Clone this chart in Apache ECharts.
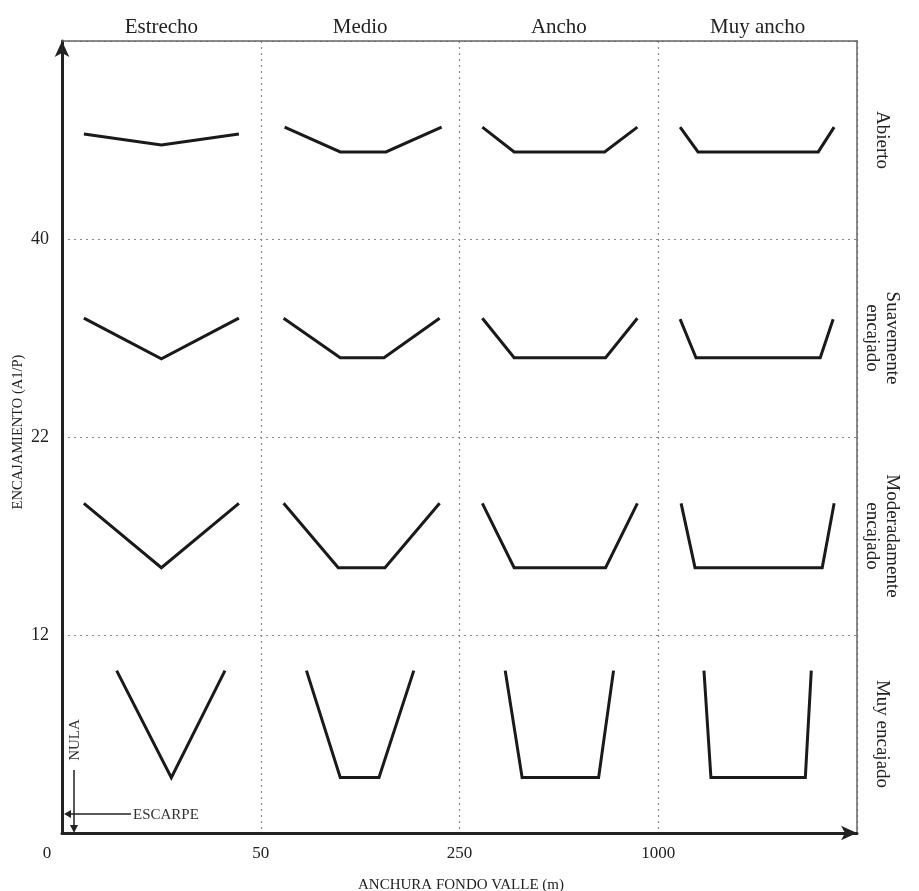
<!DOCTYPE html>
<html><head><meta charset="utf-8">
<script src="https://cdn.jsdelivr.net/npm/echarts@6/dist/echarts.min.js"></script>
<style>html,body{margin:0;padding:0;background:#fff}#c{width:919px;height:891px}</style>
</head><body><div id="c"></div>
<script>
// Column (valley floor width) and row (entrenchment) categories
const columns = ['Estrecho', 'Medio', 'Ancho', 'Muy ancho'];
const rows = ['Abierto', 'Suavemente\nencajado', 'Moderadamente\nencajado', 'Muy encajado'];
const xTickLabels = ['0', '50', '250', '1000', ''];
const yTickLabels = ['', '12', '22', '40', ''];

// Profile shapes within each cell, as [fraction across, fraction up] points
const rowAbierto = [
  [[0.11, 0.53], [0.50, 0.475], [0.89, 0.53]],
  [[0.12, 0.565], [0.40, 0.44], [0.63, 0.44], [0.91, 0.565]],
  [[0.115, 0.565], [0.275, 0.44], [0.73, 0.44], [0.895, 0.565]],
  [[0.11, 0.565], [0.20, 0.44], [0.805, 0.44], [0.885, 0.565]]
];
const rowSuave = [
  [[0.11, 0.60], [0.50, 0.395], [0.89, 0.60]],
  [[0.115, 0.60], [0.40, 0.40], [0.62, 0.40], [0.90, 0.60]],
  [[0.115, 0.60], [0.275, 0.40], [0.735, 0.40], [0.895, 0.60]],
  [[0.11, 0.595], [0.19, 0.40], [0.815, 0.40], [0.88, 0.595]]
];
const rowModerado = [
  [[0.11, 0.665], [0.50, 0.34], [0.89, 0.665]],
  [[0.115, 0.665], [0.39, 0.34], [0.625, 0.34], [0.90, 0.665]],
  [[0.115, 0.665], [0.275, 0.34], [0.735, 0.34], [0.895, 0.665]],
  [[0.115, 0.665], [0.185, 0.34], [0.825, 0.34], [0.885, 0.665]]
];
const rowMuy = [
  [[0.275, 0.82], [0.55, 0.28], [0.82, 0.82]],
  [[0.23, 0.82], [0.40, 0.28], [0.595, 0.28], [0.77, 0.82]],
  [[0.23, 0.82], [0.315, 0.28], [0.70, 0.28], [0.775, 0.82]],
  [[0.23, 0.82], [0.265, 0.28], [0.74, 0.28], [0.77, 0.82]]
];
// rows listed bottom (index 0) to top (index 3)
const profileRows = [rowMuy, rowModerado, rowSuave, rowAbierto];

const serif = 'Liberation Serif';
const series = [];
profileRows.forEach((rowProfiles, r) => {
  rowProfiles.forEach((pts, c) => {
    series.push({
      type: 'line', xAxisIndex: 0, yAxisIndex: 0,
      data: pts.map(p => [c + p[0], r + p[1]]),
      symbol: 'none', silent: true,
      lineStyle: { color: '#1a1a1a', width: 3, join: 'miter' }
    });
  });
});

const chart = echarts.init(document.getElementById('c'), null, { renderer: 'canvas' });
const gridL = 62, gridT = 41, gridW = 795, gridH = 792;

const graphics = [];
columns.forEach((name, i) => {
  graphics.push({ type: 'text', x: gridL + gridW * (i + 0.5) / 4, y: 27,
    style: { text: name, font: '21px "' + serif + '"', fill: '#222', textAlign: 'center', textVerticalAlign: 'middle' } });
});
rows.forEach((name, i) => {
  graphics.push({ type: 'text', x: 882, y: gridT + gridH * (i + 0.5) / 4, rotation: -Math.PI / 2,
    style: { text: name, font: '19px "' + serif + '"', fill: '#222', textAlign: 'center', textVerticalAlign: 'middle', lineHeight: 20 } });
});
graphics.push(
  { type: 'text', x: 461, y: 885, style: { text: 'ANCHURA FONDO VALLE (m)', font: '15px "' + serif + '"', fill: '#222', textAlign: 'center', textVerticalAlign: 'middle' } },
  { type: 'text', x: 18, y: 432, rotation: Math.PI / 2, style: { text: 'ENCAJAMIENTO (A1/P)', font: '14.5px "' + serif + '"', fill: '#222', textAlign: 'center', textVerticalAlign: 'middle' } },
  { type: 'text', x: 75, y: 740, rotation: Math.PI / 2, style: { text: 'NULA', font: '15px "' + serif + '"', fill: '#333', textAlign: 'center', textVerticalAlign: 'middle' } },
  { type: 'line', shape: { x1: 74, y1: 770, x2: 74, y2: 826 }, style: { stroke: '#222', lineWidth: 1.5 } },
  { type: 'polygon', shape: { points: [[70, 825], [78, 825], [74, 833]] }, style: { fill: '#222' } },
  { type: 'line', shape: { x1: 70, y1: 814, x2: 131, y2: 814 }, style: { stroke: '#222', lineWidth: 1.5 } },
  { type: 'polygon', shape: { points: [[71, 810], [71, 818], [64, 814]] }, style: { fill: '#222' } },
  { type: 'text', x: 133, y: 815, style: { text: 'ESCARPE', font: '15px "' + serif + '"', fill: '#333', textAlign: 'left', textVerticalAlign: 'middle' } }
);

const dotted = { show: true, lineStyle: { color: '#8a8a8a', width: 1.2, type: [2, 4] } };
chart.setOption({
  animation: false,
  backgroundColor: '#fff',
  grid: { left: gridL, top: gridT, width: gridW, height: gridH },
  xAxis: [
    { type: 'value', min: 0, max: 4, interval: 1, position: 'bottom',
      axisLine: { show: true, onZero: false, lineStyle: { color: '#222', width: 3 }, symbol: ['none', 'arrow'], symbolSize: [11, 16] },
      axisTick: { show: false },
      axisLabel: { margin: 12, color: '#222', fontFamily: serif, fontSize: 17,
        formatter: v => v === 0 ? '{z|0}' : xTickLabels[v],
        rich: { z: { fontFamily: serif, fontSize: 17, color: '#222', padding: [0, 30, 0, 0] } } },
      splitLine: dotted },
    { type: 'value', min: 0, max: 4, interval: 1, position: 'top',
      axisLine: { show: true, onZero: false, lineStyle: { color: '#666', width: 1.5 } },
      axisTick: { show: false }, axisLabel: { show: false }, splitLine: { show: false } }
  ],
  yAxis: [
    { type: 'value', min: 0, max: 4, interval: 1, position: 'left',
      axisLine: { show: true, onZero: false, lineStyle: { color: '#222', width: 3 }, symbol: ['none', 'arrow'], symbolSize: [11, 16] },
      axisTick: { show: false },
      axisLabel: { margin: 13, color: '#222', fontFamily: serif, fontSize: 18, formatter: v => yTickLabels[v] },
      splitLine: dotted },
    { type: 'value', min: 0, max: 4, interval: 1, position: 'right',
      axisLine: { show: true, onZero: false, lineStyle: { color: '#666', width: 1.5 } },
      axisTick: { show: false }, axisLabel: { show: false }, splitLine: { show: false } }
  ],
  series: series,
  graphic: graphics
});
</script></body></html>
